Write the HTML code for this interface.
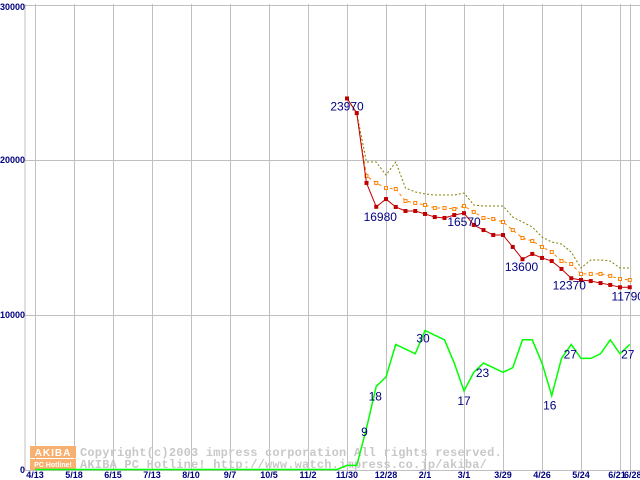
<!DOCTYPE html>
<html><head><meta charset="utf-8"><style>
body{margin:0;background:#fff}
svg{display:block}
text{font-family:"Liberation Sans",sans-serif}
</style></head><body>
<svg id="chart" width="640" height="480" xmlns="http://www.w3.org/2000/svg">
<g id="grid"></g>
<g id="wm">
<rect x="30" y="446" width="46" height="12" fill="#f8b070"/>
<rect x="30" y="459" width="46" height="11" fill="#f8b070"/>
<text x="53" y="456" font-size="10" font-weight="bold" fill="#fff" text-anchor="middle" letter-spacing="1">AKIBA</text>
<text x="53" y="467" font-size="7" font-weight="bold" fill="#fff" text-anchor="middle">PC Hotline!</text>
<text x="80" y="456" font-size="12" font-weight="bold" fill="#c8c8c8" letter-spacing="0.2" style="font-family:'Liberation Mono',monospace">Copyright(c)2003 impress corporation All rights reserved.</text>
<text x="80" y="468" font-size="12" font-weight="bold" fill="#c8c8c8" letter-spacing="0.2" style="font-family:'Liberation Mono',monospace">AKIBA PC Hotline!  http://www.watch.impress.co.jp/akiba/</text>
</g>
<g id="series"></g>
<g id="labels"></g>
</svg>
<script>
const tickWeeks=[0,4,8,12,16,20,24,28,32,36,40,44,48,52,56,60,61];
const tickLabels=["4/13","5/18","6/15","7/13","8/10","9/7","10/5","11/2","11/30","12/28","2/1","3/1","3/29","4/26","5/24","6/21","6/28"];
const yTicks=[0,10000,20000,30000];
const startWeek=32;
const minPrice=[23970,23030,18520,16980,17480,16970,16710,16710,16520,16320,16260,16450,16570,15810,15480,15160,15160,14390,13600,13940,13680,13480,12970,12370,12260,12190,12060,11940,11790,11790];
const avgPrice=[23970,23030,18970,18520,18190,18130,17350,17230,17100,16900,16900,16840,17030,16650,16260,16190,16000,15480,14970,14770,14390,14060,13480,13290,12650,12650,12650,12520,12320,12260];
const maxPrice=[23970,23030,19870,19870,19030,19870,18190,17940,17810,17740,17740,17740,17870,17100,17030,17030,17030,16320,16000,15680,15030,14710,14580,14060,13030,13550,13550,13480,13030,13030];
const shopCount=[1,1,9,18,20,27,26,25,30,29,28,23,17,21,23,22,21,22,28,28,23,16,24,27,24,24,25,28,25,27];
const priceLabels=[[0,"23970",0,12],[3,"16980",4,14],[12,"16570",0,13],[18,"13600",-1,12],[23,"12370",-2,11],[29,"11790",-2,13]];
const shopLabels=[[2,"9",-2,8],[3,"18",-1,14],[8,"30",-2,12],[12,"17",0,14],[14,"23",-1,14],[21,"16",-2,14],[23,"27",-1,14],[29,"27",-2,14]];
const SHOP_UNIT=300;
const X=w=>35+9.75*w, Y=v=>470-v*0.0155;
const NS="http://www.w3.org/2000/svg";
function mk(t,a,p){const e=document.createElementNS(NS,t);for(const k in a)e.setAttribute(k,a[k]);p.appendChild(e);return e;}
const g=document.getElementById('grid'),s=document.getElementById('series'),L=document.getElementById('labels');
let e=mk('line',{x1:25,y1:4,x2:25,y2:470,stroke:'#c0c0c0'},g);


yTicks.forEach(v=>{
 let l=mk('line',{x1:25,x2:640,y1:Y(v)+0.5,y2:Y(v)+0.5,stroke:'#c0c0c0'},g);
 
 
 let t=mk('text',{x:v==30000?0:25,y:v==30000?Y(v)+5:Y(v)+3,'font-size':9,'font-weight':'bold',fill:'#000080','text-anchor':v==30000?'start':'end'},g);
 t.textContent=v;
 
 
});
tickWeeks.forEach((w,i)=>{
 let l=mk('line',{x1:Math.round(X(w))+0.5,x2:Math.round(X(w))+0.5,y1:4,y2:470,stroke:'#c0c0c0'},g);
 
 
 let t=mk('text',{x:X(w)+(i==15?-3:i==16?3:0),y:478,'font-size':9,'font-weight':'bold',fill:'#000080','text-anchor':'middle'},g);
 t.textContent=tickLabels[i];
 
 
});
let gp=[];for(let w=0;w<startWeek;w++)gp.push(X(w)+','+(Y(0)-0.5));
shopCount.forEach((c,i)=>gp.push(X(startWeek+i)+','+Y(c*SHOP_UNIT)));
e=mk('polyline',{points:gp.join(' '),fill:'none',stroke:'#00ff00','stroke-width':1.5},s);


function pts(a){return a.map((v,i)=>X(startWeek+i)+','+Y(v)).join(' ');}
e=mk('polyline',{points:pts(maxPrice),fill:'none',stroke:'#808000','stroke-dasharray':'2,2'},s);


e=mk('polyline',{points:pts(avgPrice),fill:'none',stroke:'#ff8000','stroke-dasharray':'3,3'},s);


avgPrice.forEach((v,i)=>{if(i<2)return;
 let r=mk('rect',{x:X(startWeek+i)-1.5,y:Y(v)-1.5,width:3,height:3,fill:'#fff',stroke:'#ff8000'},s);
 
 
});
e=mk('polyline',{points:pts(minPrice),fill:'none',stroke:'#c00000'},s);


minPrice.forEach((v,i)=>{
 let r=mk('rect',{x:X(startWeek+i)-2,y:Y(v)-2,width:4,height:4,fill:'#c00000'},s);
 
 
});
priceLabels.forEach(([i,t,dx,dy])=>{
 let x=mk('text',{x:X(startWeek+i)+dx,y:Y(minPrice[i])+dy,'font-size':12,fill:'#000080','text-anchor':'middle'},L);
 x.textContent=t;
 
 
});
shopLabels.forEach(([i,t,dx,dy])=>{
 let x=mk('text',{x:X(startWeek+i)+dx,y:Y(shopCount[i]*SHOP_UNIT)+dy,'font-size':12,fill:'#000080','text-anchor':'middle'},L);
 x.textContent=t;
 
 
});
</script>
</body></html>
